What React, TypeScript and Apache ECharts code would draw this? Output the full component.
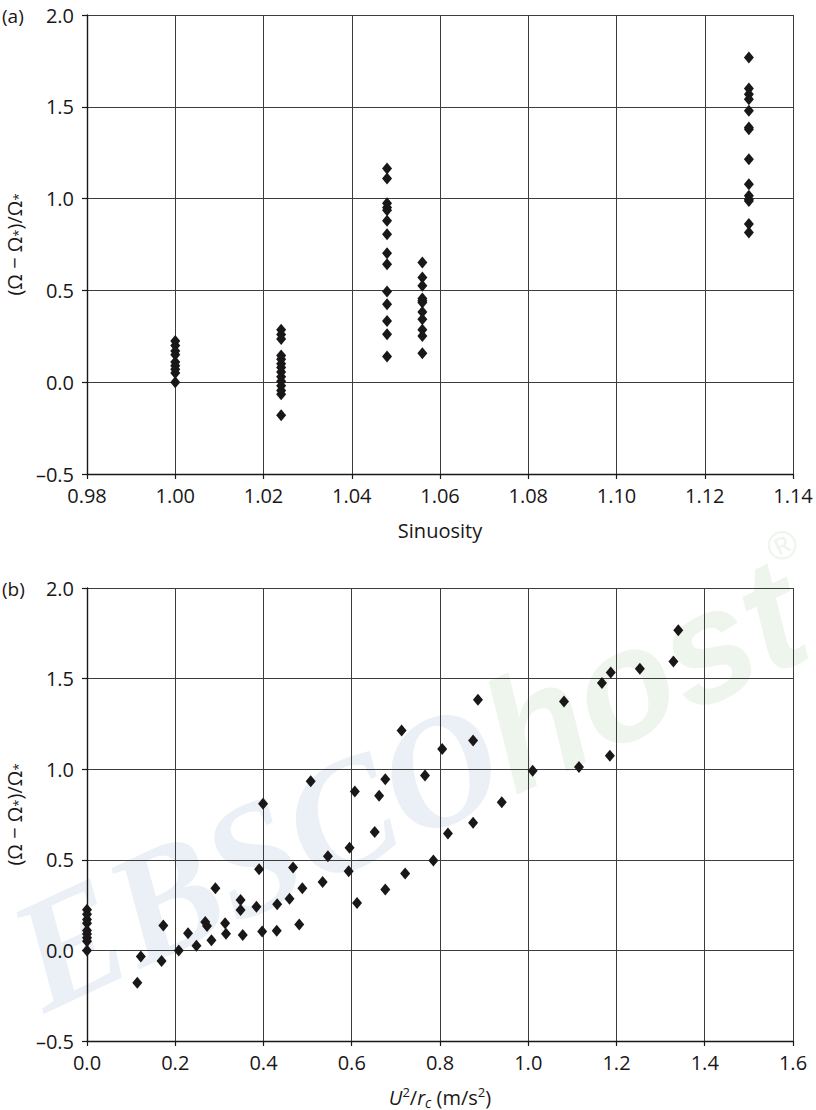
import React, { useEffect, useRef } from "react";
import * as echarts from "echarts";

// ---------- data ----------
// Panel (a): excess stream power vs sinuosity
const sinuosityLevels = [1.0, 1.024, 1.048, 1.056, 1.13];
const excessS100 = [0.0, 0.05, 0.07, 0.09, 0.11, 0.15, 0.17, 0.2, 0.225];
const excessS1024 = [0.285, 0.26, 0.235, 0.145, 0.125, 0.1, 0.08, 0.055, 0.03, 0.005, -0.02, -0.045, -0.065, -0.18];
const excessS1048 = [1.164, 1.109, 0.975, 0.951, 0.937, 0.879, 0.806, 0.703, 0.643, 0.494, 0.425, 0.334, 0.261, 0.14];
const excessS1056 = [0.652, 0.57, 0.525, 0.456, 0.443, 0.434, 0.383, 0.343, 0.285, 0.252, 0.158];
const excessS113 = [1.768, 1.6, 1.569, 1.541, 1.478, 1.387, 1.378, 1.215, 1.078, 1.015, 0.997, 0.987, 0.861, 0.815];

// Panel (b): excess stream power vs centripetal acceleration U^2/r_c
const accelValues = [
  0, 0, 0, 0, 0, 0, 0, 0, 0,
  0.114, 0.122, 0.169, 0.173, 0.208, 0.229, 0.248, 0.268, 0.272, 0.282,
  0.291, 0.313, 0.315, 0.348, 0.348, 0.353, 0.384, 0.39, 0.397, 0.399,
  0.431, 0.43, 0.459, 0.467, 0.481, 0.488, 0.507, 0.534, 0.546, 0.593,
  0.595, 0.607, 0.612, 0.652, 0.662, 0.676, 0.676, 0.713, 0.721, 0.766,
  0.785, 0.805, 0.818, 0.875, 0.875, 0.886, 0.94, 1.01, 1.081, 1.115,
  1.167, 1.185, 1.187, 1.253, 1.329, 1.34,
];
const accelExcess = [
  0.0, 0.05, 0.07, 0.09, 0.11, 0.15, 0.17, 0.2, 0.225,
  -0.178, -0.034, -0.058, 0.137, 0.0, 0.095, 0.025, 0.157, 0.135, 0.056,
  0.343, 0.15, 0.092, 0.278, 0.223, 0.085, 0.241, 0.448, 0.104, 0.809,
  0.255, 0.108, 0.285, 0.458, 0.143, 0.343, 0.934, 0.378, 0.52, 0.437,
  0.567, 0.877, 0.262, 0.653, 0.853, 0.944, 0.336, 1.213, 0.424, 0.965,
  0.496, 1.111, 0.645, 0.705, 1.158, 1.383, 0.817, 0.991, 1.373, 1.012,
  1.476, 1.074, 1.533, 1.554, 1.594, 1.767,
];

const sinuosityTicks = { min: 0.98, max: 1.14, step: 0.02 };
const accelTicks = { min: 0, max: 1.6, step: 0.2 };
const excessTicks = { min: -0.5, max: 2.0, step: 0.5 };

// ---------- styling ----------
const FONT = "'Open Sans', 'Noto Sans', sans-serif";
const INK = "#1a1718";
const GRIDC = "#3c3c3c";
const FS = 20;

const panelAData: number[][] = [];
[excessS100, excessS1024, excessS1048, excessS1056, excessS113].forEach((arr, i) => {
  arr.forEach((v) => panelAData.push([sinuosityLevels[i], v]));
});
const panelBData: number[][] = accelValues.map((x, i) => [x, accelExcess[i]]);

const fmtY = (v: number) => (v < 0 ? "\u2013" + Math.abs(v).toFixed(1) : v.toFixed(1));

const yName = "(Ω \u2212 Ω{s|*})/Ω{s|*}";
const nameRich = {
  s: { fontSize: 13, fontFamily: FONT, color: INK, verticalAlign: "bottom", lineHeight: 12 },
};

function makeY(gridIndex: number) {
  return {
    type: "value",
    gridIndex,
    min: excessTicks.min,
    max: excessTicks.max,
    interval: excessTicks.step,
    name: yName,
    nameLocation: "middle",
    nameGap: 63,
    nameRotate: 90,
    nameTextStyle: { fontSize: FS, fontFamily: FONT, color: INK, lineHeight: 20, rich: nameRich },
    axisLine: { show: true, onZero: false, lineStyle: { color: INK, width: 1.4 } },
    axisTick: { show: true, inside: false, length: 5, lineStyle: { color: INK, width: 1.2 } },
    axisLabel: { fontSize: FS, fontFamily: FONT, color: INK, margin: 13, formatter: fmtY },
    splitLine: { show: true, lineStyle: { color: GRIDC, width: 1 } },
  };
}

function makeX(gridIndex: number, t: { min: number; max: number; step: number }, digits: number, name: any, rich?: any) {
  return {
    type: "value",
    gridIndex,
    min: t.min,
    max: t.max,
    interval: t.step,
    name,
    nameLocation: "middle",
    nameGap: 44,
    nameTextStyle: { fontSize: FS, fontFamily: FONT, color: INK, lineHeight: 24, rich },
    axisLine: { show: true, onZero: false, lineStyle: { color: INK, width: 1.4 } },
    axisTick: { show: true, inside: false, length: 5, lineStyle: { color: INK, width: 1.2 } },
    axisLabel: {
      fontSize: FS,
      fontFamily: FONT,
      color: INK,
      margin: 11,
      formatter: (v: number) => v.toFixed(digits),
    },
    splitLine: { show: true, lineStyle: { color: GRIDC, width: 1 } },
  };
}

const xNameB = "{i|U}{sp|2}/{i|r}{sb|c} (m/s{sp|2})";
const xRichB = {
  i: { fontSize: FS, fontFamily: FONT, fontStyle: "italic", color: INK },
  sp: { fontSize: 13, fontFamily: FONT, color: INK, verticalAlign: "top", lineHeight: 14 },
  sb: { fontSize: 14, fontFamily: FONT, fontStyle: "italic", color: INK, verticalAlign: "bottom", lineHeight: 14 },
};

export default function App() {
  const ref = useRef<HTMLDivElement>(null);
  useEffect(() => {
    if (!ref.current) return;
    const chart = echarts.init(ref.current, undefined, { renderer: "svg" });
    const marker = {
      symbol: "diamond",
      symbolSize: [10, 12],
      itemStyle: { color: INK, opacity: 1 },
    };
    chart.setOption({
      animation: false,
      backgroundColor: "#ffffff",
      textStyle: { fontFamily: FONT },
      graphic: [
        {
          type: "text",
          x: 22,
          y: 965,
          rotation: (25 * Math.PI) / 180,
          silent: true,
          z: -1,
          style: {
            text: "{a|EBSCO}{b|host}{r|®}",
            align: "left",
            verticalAlign: "middle",
            rich: {
              a: {
                fontSize: 158,
                fontFamily: "'Liberation Serif', serif",
                fontWeight: "bold",
                fontStyle: "italic",
                fill: "#ebf0f7",
              },
              b: {
                fontSize: 158,
                fontFamily: "'Liberation Sans', sans-serif",
                fontWeight: "bold",
                fontStyle: "italic",
                fill: "#eef5ec",
              },
              r: {
                fontSize: 40,
                fontFamily: "'Liberation Sans', sans-serif",
                fill: "#eef5ec",
                verticalAlign: "top",
              },
            },
          },
        },
        {
          type: "text",
          x: 2,
          y: 16,
          style: { text: "(a)", font: `19px ${FONT}`, fill: INK, verticalAlign: "middle", align: "left" },
        },
        {
          type: "text",
          x: 2,
          y: 589,
          style: { text: "(b)", font: `19px ${FONT}`, fill: INK, verticalAlign: "middle", align: "left" },
        },
      ],
      grid: [
        { left: 87, top: 15, width: 706, height: 459, containLabel: false, outerBoundsMode: "none" },
        { left: 87, top: 588, width: 706, height: 453, containLabel: false, outerBoundsMode: "none" },
      ],
      xAxis: [
        makeX(0, sinuosityTicks, 2, "Sinuosity"),
        makeX(1, accelTicks, 1, xNameB, xRichB),
      ],
      yAxis: [makeY(0), makeY(1)],
      series: [
        { type: "scatter", xAxisIndex: 0, yAxisIndex: 0, data: panelAData, ...marker, z: 5 },
        { type: "scatter", xAxisIndex: 1, yAxisIndex: 1, data: panelBData, ...marker, z: 5 },
      ],
    });
    return () => chart.dispose();
  }, []);
  return (
    <div
      ref={ref}
      style={{ position: "absolute", left: 0, top: 0, width: 816, height: 1110, background: "#fff" }}
    />
  );
}
